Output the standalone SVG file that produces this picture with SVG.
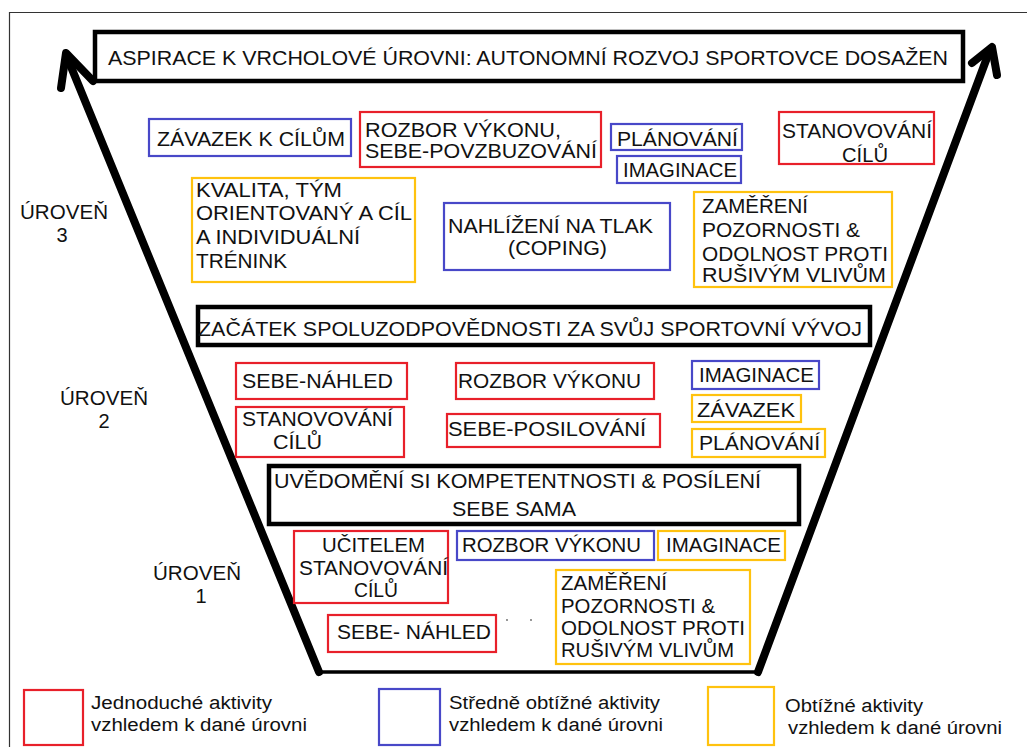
<svg xmlns="http://www.w3.org/2000/svg" width="1027" height="747" viewBox="0 0 1027 747">
<style>
text{font-family:"Liberation Sans",Arial,sans-serif;font-size:20px;fill:#111}
.t3{font-size:21px}
.lg{font-size:18px}
.box{fill:none;stroke-width:2.2}
.r{stroke:#e8202a}
.b{stroke:#4848c8}
.y{stroke:#ffc20e}
.k{fill:none;stroke:#000;stroke-width:4.5}
.arr{fill:none;stroke:#000;stroke-width:8;stroke-linecap:round;stroke-linejoin:round}
</style>
<rect width="1027" height="747" fill="#fff"/>
<g id="frame" fill="none" stroke="#333" stroke-width="1.2">
<path d="M9.5 747V12.5H1027"/>
</g>
<g id="connectors">
<path class="arr" d="M319 672L67 57"/>
<path class="arr" stroke-width="10" d="M61 88L66 53L93 81"/>
<path class="arr" d="M758 672L988 55"/>
<path class="arr" stroke-width="10" d="M972 63L992 47L997 75"/>
<path d="M319 672H758" stroke="#000" stroke-width="3.5" fill="none"/>
</g>
<g id="title">
<rect class="k" x="95" y="32" width="868" height="49"/>
<text class="t3" x="108" y="65" textLength="840" lengthAdjust="spacingAndGlyphs">ASPIRACE K VRCHOLOVÉ ÚROVNI: AUTONOMNÍ ROZVOJ SPORTOVCE DOSAŽEN</text>
</g>
<g id="level3-label">
<text x="20" y="219" textLength="88" lengthAdjust="spacingAndGlyphs">ÚROVEŇ</text>
<text x="62" y="242" text-anchor="middle">3</text>
</g>
<g id="l3-zavazek">
<rect class="box b" x="149" y="119" width="202" height="37"/>
<text class="t3" x="157" y="146" textLength="188" lengthAdjust="spacingAndGlyphs">ZÁVAZEK K CÍLŮM</text>
</g>
<g id="l3-rozbor">
<rect class="box r" x="360" y="112" width="241" height="55"/>
<text class="t3" x="365" y="137" textLength="196" lengthAdjust="spacingAndGlyphs">ROZBOR VÝKONU,</text>
<text class="t3" x="365" y="158" textLength="232" lengthAdjust="spacingAndGlyphs">SEBE-POVZBUZOVÁNÍ</text>
</g>
<g id="l3-planovani">
<rect class="box b" x="611" y="124" width="131" height="26"/>
<text class="t3" x="617" y="146" textLength="121" lengthAdjust="spacingAndGlyphs">PLÁNOVÁNÍ</text>
</g>
<g id="l3-imaginace">
<rect class="box b" x="617" y="156" width="124" height="27"/>
<text class="t3" x="623" y="177" textLength="114" lengthAdjust="spacingAndGlyphs">IMAGINACE</text>
</g>
<g id="l3-stanovovani">
<rect class="box r" x="779" y="112" width="155" height="52"/>
<text class="t3" x="782" y="138" textLength="150" lengthAdjust="spacingAndGlyphs">STANOVOVÁNÍ</text>
<text class="t3" x="842" y="162" textLength="46" lengthAdjust="spacingAndGlyphs">CÍLŮ</text>
</g>
<g id="l3-kvalita">
<rect class="box y" x="192" y="178" width="223" height="104"/>
<text class="t3" x="196" y="197" textLength="146" lengthAdjust="spacingAndGlyphs">KVALITA, TÝM</text>
<text class="t3" x="196" y="220" textLength="216" lengthAdjust="spacingAndGlyphs">ORIENTOVANÝ A CÍL</text>
<text class="t3" x="196" y="244" textLength="164" lengthAdjust="spacingAndGlyphs">A INDIVIDUÁLNÍ</text>
<text class="t3" x="196" y="268" textLength="91" lengthAdjust="spacingAndGlyphs">TRÉNINK</text>
</g>
<g id="l3-nahlizeni">
<rect class="box b" x="444" y="203" width="226" height="67"/>
<text class="t3" x="448" y="233" textLength="205" lengthAdjust="spacingAndGlyphs">NAHLÍŽENÍ NA TLAK</text>
<text class="t3" x="508" y="255" textLength="99" lengthAdjust="spacingAndGlyphs">(COPING)</text>
</g>
<g id="l3-zamereni">
<rect class="box y" x="694" y="192" width="198" height="95"/>
<text class="t3" x="702" y="213" textLength="106" lengthAdjust="spacingAndGlyphs">ZAMĚŘENÍ</text>
<text class="t3" x="702" y="237" textLength="158" lengthAdjust="spacingAndGlyphs">POZORNOSTI &amp;</text>
<text class="t3" x="702" y="261" textLength="186" lengthAdjust="spacingAndGlyphs">ODOLNOST PROTI</text>
<text class="t3" x="702" y="282" textLength="184" lengthAdjust="spacingAndGlyphs">RUŠIVÝM VLIVŮM</text>
</g>
<g id="zacatek">
<rect class="k" x="198" y="307" width="672" height="38"/>
<text class="t3" x="198" y="336" textLength="664" lengthAdjust="spacingAndGlyphs">ZAČÁTEK SPOLUZODPOVĚDNOSTI ZA SVŮJ SPORTOVNÍ VÝVOJ</text>
</g>
<g id="level2-label">
<text x="60" y="405" textLength="88" lengthAdjust="spacingAndGlyphs">ÚROVEŇ</text>
<text x="104" y="428" text-anchor="middle">2</text>
</g>
<g id="l2-sebenahled">
<rect class="box r" x="236" y="363" width="171" height="36"/>
<text x="242" y="388" textLength="151" lengthAdjust="spacingAndGlyphs">SEBE-NÁHLED</text>
</g>
<g id="l2-stanovovani">
<rect class="box r" x="236" y="407" width="168" height="50"/>
<text x="242" y="426" textLength="151" lengthAdjust="spacingAndGlyphs">STANOVOVÁNÍ</text>
<text x="273" y="449" textLength="49" lengthAdjust="spacingAndGlyphs">CÍLŮ</text>
</g>
<g id="l2-rozbor">
<rect class="box r" x="456" y="363" width="198" height="36"/>
<text x="458" y="388" textLength="183" lengthAdjust="spacingAndGlyphs">ROZBOR VÝKONU</text>
</g>
<g id="l2-sebeposilovani">
<rect class="box r" x="447" y="414" width="213" height="33"/>
<text x="448" y="436" textLength="198" lengthAdjust="spacingAndGlyphs">SEBE-POSILOVÁNÍ</text>
</g>
<g id="l2-imaginace">
<rect class="box b" x="692" y="361" width="127" height="28"/>
<text x="699" y="382" textLength="115" lengthAdjust="spacingAndGlyphs">IMAGINACE</text>
</g>
<g id="l2-zavazek">
<rect class="box y" x="692" y="395" width="109" height="27"/>
<text x="697" y="417" textLength="98" lengthAdjust="spacingAndGlyphs">ZÁVAZEK</text>
</g>
<g id="l2-planovani">
<rect class="box y" x="692" y="429" width="133" height="28"/>
<text x="699" y="450" textLength="121" lengthAdjust="spacingAndGlyphs">PLÁNOVÁNÍ</text>
</g>
<g id="uvedomeni">
<rect class="k" x="269" y="466" width="530" height="58"/>
<text x="274" y="488" textLength="487" lengthAdjust="spacingAndGlyphs">UVĚDOMĚNÍ SI KOMPETENTNOSTI &amp; POSÍLENÍ</text>
<text x="452" y="516" textLength="124" lengthAdjust="spacingAndGlyphs">SEBE SAMA</text>
</g>
<g id="level1-label">
<text x="153" y="580" textLength="88" lengthAdjust="spacingAndGlyphs">ÚROVEŇ</text>
<text x="201" y="603" text-anchor="middle">1</text>
</g>
<g id="l1-ucitelem">
<rect class="box r" x="294" y="531" width="154" height="72"/>
<text x="322" y="552" textLength="103" lengthAdjust="spacingAndGlyphs">UČITELEM</text>
<text x="299" y="575" textLength="149" lengthAdjust="spacingAndGlyphs">STANOVOVÁNÍ</text>
<text x="354" y="597" textLength="44" lengthAdjust="spacingAndGlyphs">CÍLŮ</text>
</g>
<g id="l1-rozbor">
<rect class="box b" x="457" y="531" width="197" height="29"/>
<text x="462" y="552" textLength="179" lengthAdjust="spacingAndGlyphs">ROZBOR VÝKONU</text>
</g>
<g id="l1-imaginace">
<rect class="box y" x="658" y="531" width="127" height="29"/>
<text x="666" y="552" textLength="115" lengthAdjust="spacingAndGlyphs">IMAGINACE</text>
</g>
<g id="l1-sebenahled">
<rect class="box r" x="328" y="615" width="168" height="37"/>
<text x="337" y="639" textLength="154" lengthAdjust="spacingAndGlyphs">SEBE- NÁHLED</text>
</g>
<g id="l1-zamereni">
<rect class="box y" x="556" y="570" width="194" height="94"/>
<text x="561" y="590" textLength="106" lengthAdjust="spacingAndGlyphs">ZAMĚŘENÍ</text>
<text x="561" y="613" textLength="154" lengthAdjust="spacingAndGlyphs">POZORNOSTI &amp;</text>
<text x="561" y="635" textLength="184" lengthAdjust="spacingAndGlyphs">ODOLNOST PROTI</text>
<text x="561" y="657" textLength="173" lengthAdjust="spacingAndGlyphs">RUŠIVÝM VLIVŮM</text>
</g>
<g id="dots" fill="#666">
<circle cx="507" cy="620" r="0.9"/>
<circle cx="531" cy="620" r="0.9"/>
</g>
<g id="legend-easy">
<rect class="box r" x="24" y="690" width="59" height="55"/>
<text class="lg" x="91" y="709" textLength="181" lengthAdjust="spacingAndGlyphs">Jednoduché aktivity</text>
<text class="lg" x="91" y="731" textLength="216" lengthAdjust="spacingAndGlyphs">vzhledem k dané úrovni</text>
</g>
<g id="legend-medium">
<rect class="box b" x="379" y="689" width="61" height="56"/>
<text class="lg" x="449" y="709" textLength="211" lengthAdjust="spacingAndGlyphs">Středně obtížné aktivity</text>
<text class="lg" x="449" y="731" textLength="214" lengthAdjust="spacingAndGlyphs">vzhledem k dané úrovni</text>
</g>
<g id="legend-hard">
<rect class="box y" x="708" y="687" width="66" height="58"/>
<text class="lg" x="785" y="712" textLength="138" lengthAdjust="spacingAndGlyphs">Obtížné aktivity</text>
<text class="lg" x="788" y="734" textLength="214" lengthAdjust="spacingAndGlyphs">vzhledem k dané úrovni</text>
</g>
</svg>
